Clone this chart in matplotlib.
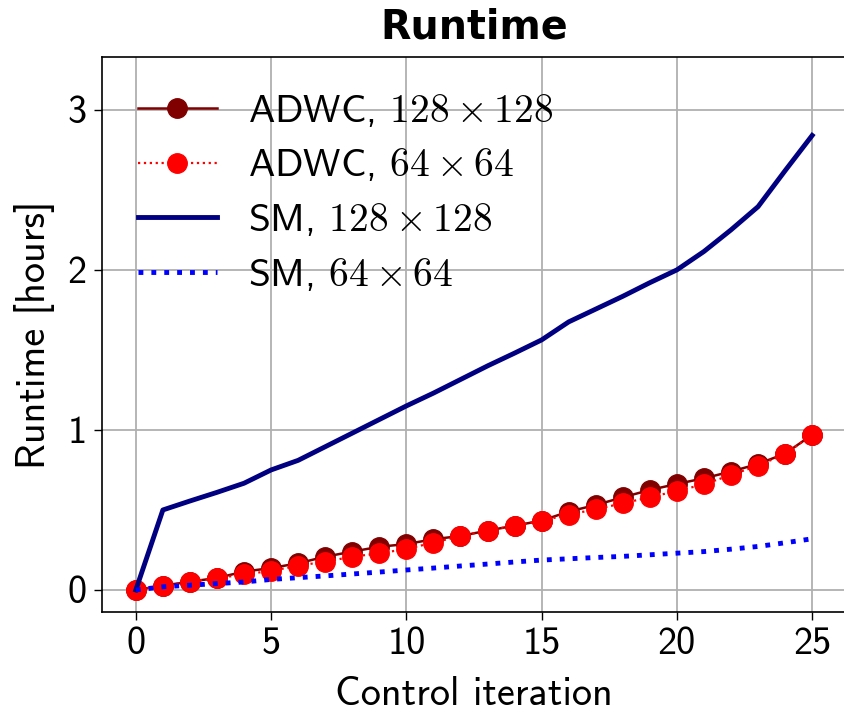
import numpy as np
import matplotlib
matplotlib.use("Agg")
import matplotlib.pyplot as plt
from matplotlib.ticker import FixedLocator

plt.rcParams["font.family"] = ["cmss10", "DejaVu Sans"]
plt.rcParams["mathtext.fontset"] = "cm"
plt.rcParams["axes.unicode_minus"] = False

# Control iterations and runtimes in hours
iterations = list(range(26))
adwc_128 = [0.0, 0.027, 0.052, 0.075, 0.115, 0.137, 0.167, 0.208, 0.24, 0.27,
            0.287, 0.317, 0.3375, 0.371, 0.402, 0.433, 0.49, 0.531, 0.579, 0.625,
            0.6625, 0.698, 0.74, 0.7875, 0.852, 0.97]
adwc_64 = [0.0, 0.027, 0.052, 0.073, 0.098, 0.119, 0.152, 0.177, 0.208, 0.229,
           0.256, 0.296, 0.3375, 0.371, 0.402, 0.433, 0.471, 0.504, 0.542, 0.579,
           0.619, 0.66, 0.719, 0.777, 0.85, 0.969]
sm_128 = [0.0, 0.5, 0.556, 0.61, 0.667, 0.75, 0.81, 0.895, 0.98, 1.065,
          1.15, 1.23, 1.315, 1.4, 1.48, 1.5625, 1.675, 1.755, 1.835, 1.92,
          2.0, 2.115, 2.25, 2.395, 2.62, 2.84]
sm_64 = [0.0, 0.02, 0.03, 0.04, 0.05, 0.066, 0.077, 0.088, 0.1, 0.112,
         0.125, 0.137, 0.15, 0.162, 0.175, 0.187, 0.195, 0.203, 0.21, 0.22,
         0.23, 0.24, 0.255, 0.272, 0.295, 0.32]

labels = [r"ADWC, $128\times128$", r"ADWC, $64\times64$",
          r"SM, $128\times128$", r"SM, $64\times64$"]

fig = plt.figure(figsize=(8.45, 7.12), dpi=100)
ax = fig.add_axes([102 / 845, 100 / 712, 744 / 845, 555 / 712])

ax.plot(iterations, adwc_128, color="#800000", lw=1.8, marker="o", ms=14,
        label=labels[0])
ax.plot(iterations, adwc_64, color="red", lw=1.6, ls=":", marker="o", ms=14,
        label=labels[1])
ax.plot(iterations, sm_128, color="navy", lw=3.5, label=labels[2])
ax.plot(iterations, sm_64, color="blue", lw=3.5, ls=":", label=labels[3])

ax.set_xlim(-1.25, 26.25)
ax.set_ylim(-0.1375, 3.33)
ax.xaxis.set_major_locator(FixedLocator([0, 5, 10, 15, 20, 25]))
ax.yaxis.set_major_locator(FixedLocator([0, 1, 2, 3]))
ax.grid(True, color="#b0b0b0", lw=1.3)
ax.set_axisbelow(True)
ax.tick_params(labelsize=27.5, length=6, width=1, pad=5)
for s in ax.spines.values():
    s.set_linewidth(1.2)

ax.set_xlabel("Control iteration", fontsize=29, labelpad=10)
ax.set_ylabel("Runtime [hours]", fontsize=29, labelpad=9)
ax.set_title("Runtime", fontsize=28.5, fontweight="bold",
             family="DejaVu Sans", pad=13)

ax.legend(loc="upper left", frameon=False, fontsize=28.5, labelspacing=0.45)

fig.savefig("out.png", dpi=100)
